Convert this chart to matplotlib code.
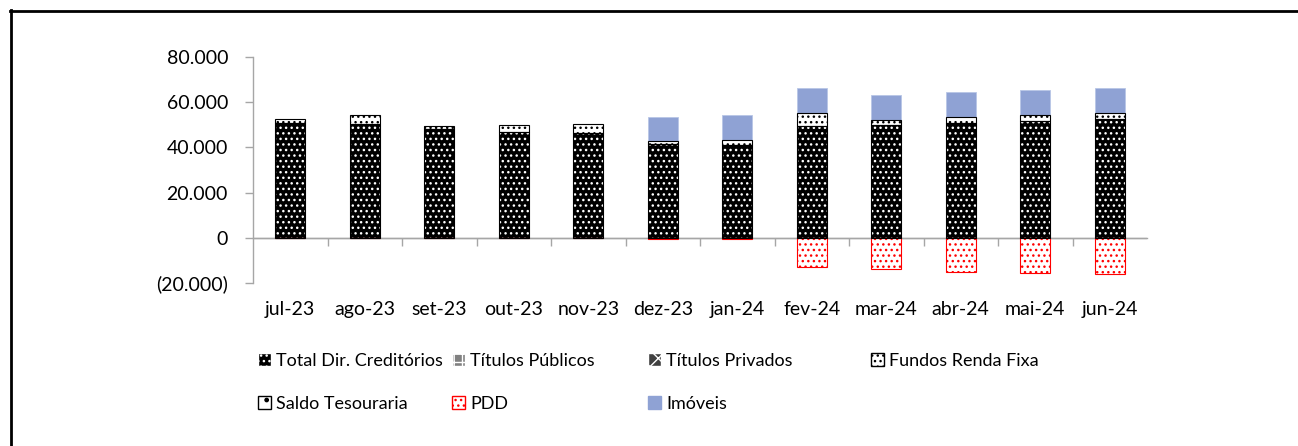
import numpy as np
import matplotlib.pyplot as plt
from matplotlib.patches import Patch
from matplotlib.lines import Line2D
from matplotlib.ticker import FuncFormatter

plt.rcParams['font.family'] = ['Lato', 'DejaVu Sans']
plt.rcParams['hatch.linewidth'] = 1.0

# data (R$ mil)
months = ['jul-23', 'ago-23', 'set-23', 'out-23', 'nov-23', 'dez-23',
          'jan-24', 'fev-24', 'mar-24', 'abr-24', 'mai-24', 'jun-24']
total_dir = [50800, 50500, 48300, 47000, 46500, 41600, 40900, 49500, 49900, 51000, 51700, 52400]
titulos_pub = [0, 0, 0, 0, 0, 0, 0, 0, 0, 0, 0, 0]
titulos_priv = [0, 0, 0, 0, 0, 0, 0, 0, 0, 0, 0, 0]
fundos_rf = [1900, 3800, 1300, 2900, 3700, 1100, 2200, 5900, 2100, 2600, 2800, 2700]
saldo_tes = [0, 0, 0, 0, 0, 0, 0, 0, 0, 0, 0, 0]
pdd = [0, 0, 0, 0, 0, -500, -500, -12700, -13800, -15000, -15550, -16100]
imoveis = [0, 0, 0, 0, 0, 10900, 11100, 11100, 11250, 11000, 11100, 11100]

grey = '#A6A6A6'
blue = '#8FA2D4'

fig = plt.figure(figsize=(12.98, 4.46), dpi=100)
ax = fig.add_axes([253 / 1298, 163 / 446, 894 / 1298, 226 / 446])

x = np.arange(len(months))
w = 0.40

# stacked positive series: (values, face, hatch colour, hatch)
stack = [
    (total_dir, 'black', 'white', '...'),
    (titulos_pub, '#808080', 'white', '++'),
    (titulos_priv, '#404040', 'white', 'xx'),
    (fundos_rf, 'white', 'black', '...'),
    (saldo_tes, 'white', 'black', '.'),
]
bottom = np.zeros(len(months))
for vals, face, hcol, hatch in stack:
    vals = np.array(vals, dtype=float)
    ax.bar(x, vals, w, bottom=bottom, color=face, edgecolor=hcol, hatch=hatch, linewidth=0, zorder=3)
    mask = vals > 0
    ax.bar(x[mask], vals[mask], w, bottom=bottom[mask], fill=False, edgecolor='black', linewidth=0.8, zorder=4)
    bottom += vals

imo = np.array(imoveis, dtype=float)
m = imo > 0
ax.bar(x[m], imo[m], w, bottom=bottom[m], color=blue, edgecolor='#B8C6E6', linewidth=0.6, zorder=3)

ax.bar(x, pdd, w, color='white', edgecolor='red', hatch='...', linewidth=0.8, zorder=3)

ax.set_xlim(-0.5, len(months) - 0.5)
ax.set_ylim(-20000, 80000)
ax.set_yticks(np.arange(-20000, 80001, 20000))


def fmt(v, pos):
    s = f"{abs(int(v)):,}".replace(',', '.')
    return f"({s})" if v < 0 else s


ax.yaxis.set_major_formatter(FuncFormatter(fmt))
ax.set_yticks(np.arange(20000, 80001, 20000), minor=True)
ax.yaxis.grid(True, which='minor', color=grey, linewidth=1.0, zorder=0)
ax.tick_params(axis='y', which='minor', length=0)
ax.tick_params(axis='y', which='major', length=6, color=grey, width=1.0, pad=12, labelsize=14)

ax.set_xticks(x)
ax.set_xticklabels(months)
ax.tick_params(axis='x', length=0, pad=13, labelsize=14)

for s in ['top', 'right', 'bottom']:
    ax.spines[s].set_visible(False)
ax.spines['left'].set_color(grey)
ax.spines['left'].set_linewidth(1.0)

# category axis crossing at zero
sec = ax.secondary_xaxis(0.2)
sec.set_xticks(np.arange(0.5, len(months) - 0.5, 1.0))
sec.set_xticklabels([])
sec.tick_params(axis='x', length=6, color=grey, width=1.0, direction='out')
sec.spines['bottom'].set_color(grey)
sec.spines['bottom'].set_linewidth(1.0)
ax.axhline(0, color=grey, linewidth=1.0, zorder=2)

# legend, laid out in columns like the original
handles = {
    'Total Dir. Creditórios': Patch(facecolor='black', edgecolor='white', hatch='...'),
    'Títulos Públicos': Patch(facecolor='#808080', edgecolor='white', hatch='++'),
    'Títulos Privados': Patch(facecolor='#404040', edgecolor='white', hatch='xx'),
    'Fundos Renda Fixa': Patch(facecolor='white', edgecolor='black', hatch='...'),
    'Saldo Tesouraria': Patch(facecolor='white', edgecolor='black', hatch='.'),
    'PDD': Patch(facecolor='white', edgecolor='red', hatch='...'),
    'Imóveis': Patch(facecolor=blue, edgecolor=blue),
}
columns = [
    (258, ['Total Dir. Creditórios', 'Saldo Tesouraria']),
    (452, ['Títulos Públicos', 'PDD']),
    (648, ['Títulos Privados', 'Imóveis']),
    (871, ['Fundos Renda Fixa']),
]
for xpx, labs in columns:
    fig.legend([handles[l] for l in labs], labs, loc='upper left',
               bbox_to_anchor=(xpx / 1298, 1 - 353 / 446), frameon=False,
               fontsize=13, handlelength=0.7, handleheight=0.7, handletextpad=0.3,
               labelspacing=1.5, borderpad=0, borderaxespad=0)

# frame lines (top and left only)
fig.add_artist(Line2D([10 / 1298, 1.0], [1 - 11 / 446] * 2, color='black', linewidth=2.0))
fig.add_artist(Line2D([11 / 1298] * 2, [0.0, 1 - 10 / 446], color='black', linewidth=2.0))

fig.savefig('out.png', dpi=100)
